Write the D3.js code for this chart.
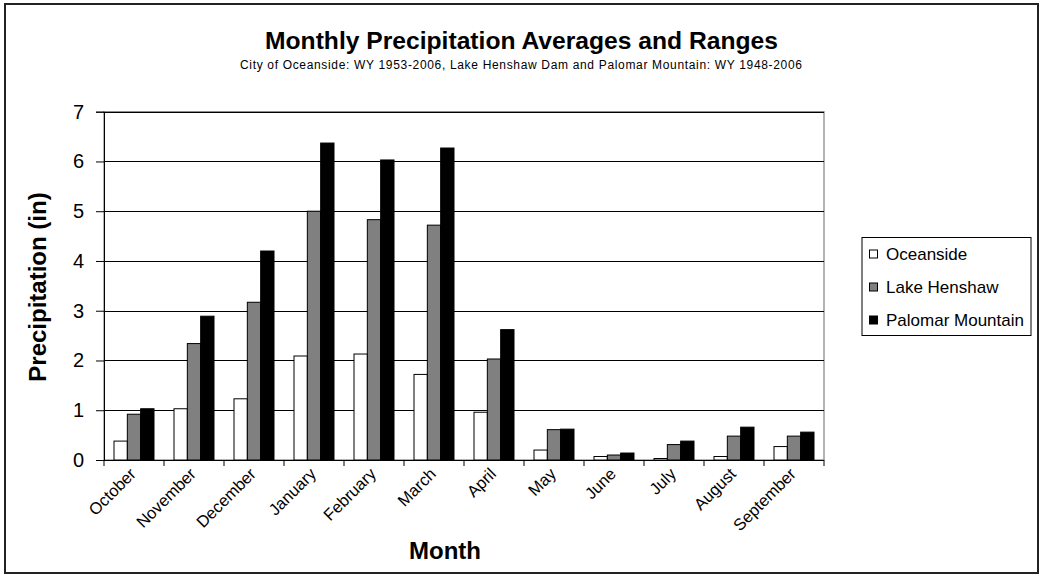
<!DOCTYPE html>
<html>
<head>
<meta charset="utf-8">
<script src="https://cdn.jsdelivr.net/npm/d3@7"></script>
<style>
  html, body { margin: 0; padding: 0; background: #fff; }
  svg { display: block; font-family: "Liberation Sans", Arial, sans-serif; }
</style>
</head>
<body>
<svg id="chart" width="1041" height="577"></svg>
<script>
const months = ["October","November","December","January","February","March","April","May","June","July","August","September"];
const seriesNames = ["Oceanside","Lake Henshaw","Palomar Mountain"];
const oceanside = [0.38, 1.03, 1.23, 2.09, 2.13, 1.72, 0.96, 0.20, 0.07, 0.03, 0.07, 0.27];
const lakeHenshaw = [0.92, 2.34, 3.17, 5.00, 4.83, 4.72, 2.03, 0.61, 0.10, 0.31, 0.48, 0.48];
const palomar = [1.03, 2.89, 4.20, 6.37, 6.03, 6.27, 2.62, 0.62, 0.14, 0.38, 0.66, 0.56];
const yTicks = [0,1,2,3,4,5,6,7];
const seriesColors = ["#ffffff","#808080","#000000"];
const titleText = "Monthly Precipitation Averages and Ranges";
const subtitleText = "City of Oceanside: WY 1953-2006, Lake Henshaw Dam and Palomar Mountain: WY 1948-2006";

const values = [oceanside, lakeHenshaw, palomar];
const svg = d3.select("#chart");

// outer border
svg.append("rect").attr("x",5).attr("y",4).attr("width",1033).attr("height",569)
  .attr("fill","#fff").attr("stroke","#222").attr("stroke-width",2);

const x = d3.scaleBand().domain(months).range([104, 824]).paddingInner(0).paddingOuter(0);
const xs = d3.scaleBand().domain(seriesNames).range([10, 50]).padding(0);
const y = d3.scaleLinear().domain([0,7]).range([460, 111.7]);

// plot border (gray)
svg.append("rect").attr("x",104).attr("y",y(7)).attr("width",720).attr("height",y(0)-y(7))
  .attr("fill","none").attr("stroke","#808080").attr("stroke-width",1.2);

// gridlines
svg.append("g").selectAll("line").data(yTicks.filter(d=>d>0)).join("line")
  .attr("x1",104).attr("x2",824).attr("y1",d=>Math.round(y(d))+0.5).attr("y2",d=>Math.round(y(d))+0.5)
  .attr("stroke","#000").attr("stroke-width",1);

// bars
const groups = svg.append("g").selectAll("g").data(months).join("g")
  .attr("transform", m => `translate(${x(m)},0)`);
groups.selectAll("rect").data((m,i) => seriesNames.map((s,j)=>({s, v: values[j][i], c: seriesColors[j]}))).join("rect")
  .attr("x", d => xs(d.s))
  .attr("y", d => y(d.v))
  .attr("width", xs.bandwidth())
  .attr("height", d => y(0) - y(d.v))
  .attr("fill", d => d.c)
  .attr("stroke","#000").attr("stroke-width",1);

// y axis
const yAxis = svg.append("g").attr("transform","translate(104,0)")
  .call(d3.axisLeft(y).tickValues(yTicks).tickSize(8).tickPadding(12).tickFormat(d3.format("d")));
yAxis.select(".domain").attr("stroke","#000");
yAxis.selectAll("line").attr("stroke","#000");
yAxis.selectAll("text").attr("font-size",20).attr("fill","#000")
  .attr("font-family","'Liberation Sans', Arial, sans-serif");

// x axis line & ticks at category boundaries
svg.append("line").attr("x1",104).attr("x2",824).attr("y1",460.5).attr("y2",460.5).attr("stroke","#000");
const bounds = months.map(m => x(m)).concat([x.range()[1]]);
svg.append("g").selectAll("line").data(bounds).join("line")
  .attr("x1",d=>d).attr("x2",d=>d).attr("y1",460).attr("y2",466).attr("stroke","#000");

// month labels
svg.append("g").selectAll("text").data(months).join("text")
  .attr("transform", m => `translate(${x(m)+x.bandwidth()/2+3},475) rotate(-45)`)
  .attr("text-anchor","end")
  .attr("font-size",16.5)
  .attr("fill","#000")
  .text(m => m);

// titles
svg.append("text").attr("x",521.5).attr("y",48.5).attr("text-anchor","middle")
  .attr("font-size",24).attr("font-weight","bold").attr("textLength",513).attr("lengthAdjust","spacingAndGlyphs")
  .text(titleText);
svg.append("text").attr("x",521).attr("y",68.5).attr("text-anchor","middle")
  .attr("font-size",12).attr("textLength",562).attr("lengthAdjust","spacing")
  .text(subtitleText);

// axis titles
svg.append("text").attr("x",445).attr("y",559).attr("text-anchor","middle")
  .attr("font-size",24).attr("font-weight","bold").text("Month");
svg.append("text").attr("transform","translate(46,287) rotate(-90)").attr("text-anchor","middle")
  .attr("font-size",24).attr("font-weight","bold").text("Precipitation (in)");

// legend
const lg = svg.append("g");
lg.append("rect").attr("x",862).attr("y",237.5).attr("width",169).attr("height",98)
  .attr("fill","#fff").attr("stroke","#000").attr("stroke-width",1);
const rowsY = [253.5, 286.5, 319.5];
const items = lg.selectAll("g").data(seriesNames).join("g")
  .attr("transform",(d,i)=>`translate(869,${rowsY[i]})`);
items.append("rect").attr("x",0.5).attr("y",-3.5).attr("width",8).attr("height",8)
  .attr("fill",(d,i)=>seriesColors[i]).attr("stroke","#000").attr("stroke-width",1);
items.append("text").attr("x",17).attr("y",6.5).attr("font-size",17).attr("fill","#000").text(d=>d);
</script>
</body>
</html>
